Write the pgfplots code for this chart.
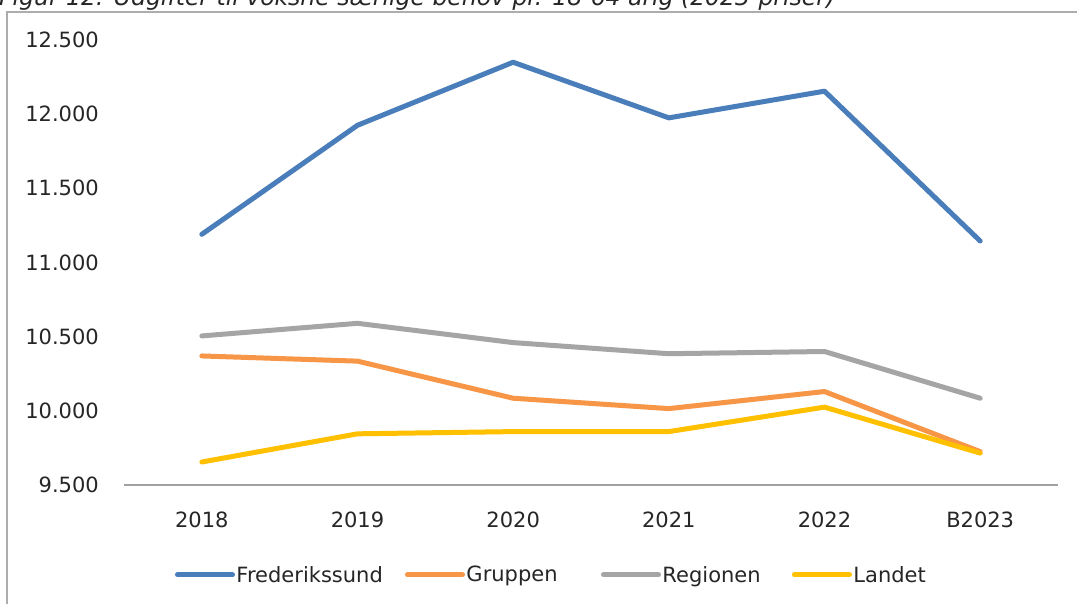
\documentclass[border=0pt]{standalone}
\usepackage{fontspec}
\setmainfont{DejaVu Sans}
\usepackage{pgfplots}
\pgfplotsset{compat=1.18}
\definecolor{cBlue}{HTML}{4A7EBB}
\definecolor{cOrange}{HTML}{F79646}
\definecolor{cGray}{HTML}{A5A5A5}
\definecolor{cYellow}{HTML}{FFC000}
\definecolor{cFrame}{HTML}{ADADAD}
\definecolor{cAxis}{HTML}{A0A0A0}
\begin{document}
\begin{tikzpicture}
\clip (0,0) rectangle (1077bp,604bp);
\useasboundingbox (0,0) rectangle (1077bp,604bp);
\fill[white] (0,0) rectangle (1077bp,604bp);
\node[anchor=base west, inner sep=0pt, font=\fontsize{23.5bp}{28bp}\selectfont\itshape, text=black!85] at (-1bp,598bp) {Figur 12: Udgifter til voksne særlige behov pr. 18-64 årig (2023-priser)};
\draw[cFrame, line width=2bp] (7bp,-2bp) -- (7bp,592bp) -- (1080bp,592bp);
\begin{axis}[
  at={(124bp,119bp)}, anchor=south west,
  scale only axis, width=934bp, height=445bp,
  xmin=-0.5, xmax=5.5, ymin=9500, ymax=12500,
  xtick={0,1,2,3,4,5},
  xticklabels={2018,2019,2020,2021,2022,B2023},
  ytick={9500,10000,10500,11000,11500,12000,12500},
  scaled y ticks=false,
  /pgf/number format/.cd, 1000 sep={.}, assume math mode=true, /pgfplots/.cd,
  separate axis lines,
  axis x line*=bottom, axis y line*=left,
  x axis line style={draw=cAxis, line width=1.5bp, -},
  y axis line style={draw=none},
  major tick length=0pt,
  tick style={draw=none},
  ticklabel style={font=\fontsize{21bp}{25bp}\selectfont, text=black!85},
  xticklabel style={inner sep=0pt, anchor=north, yshift=-27bp},
  yticklabel style={inner sep=0pt, anchor=east, xshift=-25bp},
  clip=false,
  legend columns=4,
  legend style={at={(0.0546,-0.202)}, anchor=west, draw=none, fill=none,
    font=\fontsize{21bp}{25bp}\selectfont, text=black!85,
    inner sep=0pt, outer sep=0pt,
    nodes={inner sep=1.5bp},
    /tikz/every odd column/.append style={column sep=0bp},
    /tikz/every even column/.append style={column sep=0bp}},
  legend cell align=left,
  legend image code/.code={\draw[#1, line cap=round] (0bp,0bp) -- (55bp,0bp);},
  every axis plot/.append style={line width=5bp, line join=round, line cap=round},
]
\addplot[cBlue] coordinates {(0,11190) (1,11925) (2,12350) (3,11975) (4,12155) (5,11145)};
\addlegendentry{\makebox[167bp][l]{Frederikssund}}
\addplot[cOrange] coordinates {(0,10370) (1,10335) (2,10085) (3,10015) (4,10130) (5,9725)};
\addlegendentry{\makebox[133bp][l]{Gruppen}}
\addplot[cGray] coordinates {(0,10505) (1,10590) (2,10460) (3,10385) (4,10400) (5,10085)};
\addlegendentry{\makebox[128bp][l]{Regionen}}
\addplot[cYellow] coordinates {(0,9655) (1,9845) (2,9860) (3,9860) (4,10025) (5,9715)};
\addlegendentry{Landet}
\end{axis}
\end{tikzpicture}
\end{document}
